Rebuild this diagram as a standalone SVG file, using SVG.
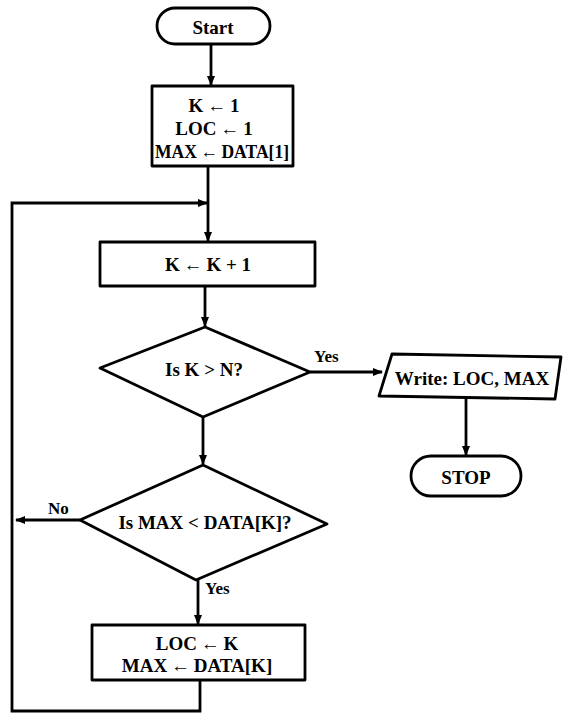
<svg xmlns="http://www.w3.org/2000/svg" width="564" height="715" viewBox="0 0 564 715">
<defs>
<marker id="ah" markerWidth="10" markerHeight="8" refX="9" refY="4" orient="auto" markerUnits="userSpaceOnUse">
<path d="M0,0 L10,4 L0,8 z" fill="#000"/>
</marker>
<style>
.s{fill:#fff;stroke:#000;stroke-width:2.8;stroke-linejoin:round}
.c{fill:none;stroke:#000;stroke-width:2.8}
text{font-family:"Liberation Serif","Times New Roman",serif;font-weight:bold;font-size:19px;fill:#000;text-anchor:middle;dominant-baseline:central}
.l{font-size:17px;text-anchor:start}
</style>
</defs>
<rect width="564" height="715" fill="#fff"/>
<g id="connectors">
<path class="c" d="M211,44 V85" marker-end="url(#ah)"/>
<path class="c" d="M208,166 V241" marker-end="url(#ah)"/>
<path class="c" d="M200,680 V711 H12 V203 H207" marker-end="url(#ah)"/>
<path class="c" d="M205,286 V326" marker-end="url(#ah)"/>
<path class="c" d="M310,372 H382" marker-end="url(#ah)"/>
<path class="c" d="M466,398 V455" marker-end="url(#ah)"/>
<path class="c" d="M203,417 V464" marker-end="url(#ah)"/>
<path class="c" d="M80,520 H16" marker-end="url(#ah)"/>
<path class="c" d="M198,580 V624" marker-end="url(#ah)"/>
<text class="l" x="314" y="356">Yes</text>
<text class="l" x="212" y="395">No</text>
<text class="l" x="48" y="508">No</text>
<text class="l" x="205" y="588">Yes</text>
</g>
<g id="start">
<rect class="s" x="157" y="8" width="113" height="36" rx="18"/>
<text x="213" y="27">Start</text>
</g>
<g id="init">
<rect class="s" x="152" y="86" width="141" height="80"/>
<text x="214" y="105">K&#8201;←&#8201;1</text>
<text x="214" y="128">LOC&#8201;←&#8201;1</text>
<text x="222" y="151" textLength="134" lengthAdjust="spacingAndGlyphs">MAX&#8201;←&#8201;DATA[1]</text>
</g>
<g id="inc">
<rect class="s" x="100" y="242" width="215" height="44"/>
<text x="208" y="264">K&#8201;←&#8201;K + 1</text>
</g>
<g id="test1">
<polygon class="s" points="205,327 310,372 203,417 100,368"/>
<text x="204" y="369">Is K &gt; N?</text>
</g>
<g id="write">
<polygon class="s" points="392,354 561,357 555,399 379,396"/>
<text x="472" y="378">Write: LOC, MAX</text>
</g>
<g id="stop">
<rect class="s" x="411" y="456" width="110" height="40" rx="20"/>
<text x="466" y="477">STOP</text>
</g>
<g id="test2">
<polygon class="s" points="203,465 327,524 196,580 80,520"/>
<text x="205" y="522">Is MAX &lt; DATA[K]?</text>
</g>
<g id="update">
<rect class="s" x="92" y="625" width="213" height="55"/>
<text x="197" y="643">LOC&#8201;←&#8201;K</text>
<text x="197" y="665">MAX&#8201;←&#8201;DATA[K]</text>
</g>
</svg>
